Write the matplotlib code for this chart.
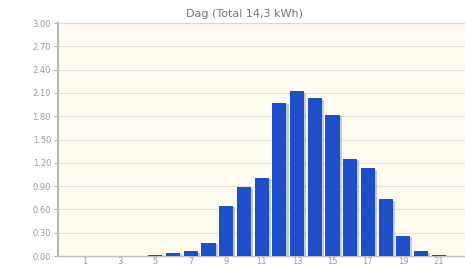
import matplotlib
matplotlib.use("Agg")
import matplotlib.pyplot as plt
import matplotlib.patheffects as pe

title = "Dag (Total 14,3 kWh)"
hours = list(range(0, 24))
values = [0.0, 0.004, 0.004, 0.004, 0.004, 0.01, 0.04, 0.06, 0.17, 0.65, 0.89, 1.01,
          1.97, 2.12, 2.03, 1.82, 1.25, 1.13, 0.73, 0.26, 0.06, 0.015, 0.0, 0.0]
yticks = [0.0, 0.3, 0.6, 0.9, 1.2, 1.5, 1.8, 2.1, 2.4, 2.7, 3.0]
xticks = [1, 3, 5, 7, 9, 11, 13, 15, 17, 19, 21]

fig = plt.figure(figsize=(4.65, 2.66), dpi=100)
fig.patch.set_facecolor("white")
ax = fig.add_axes([58/465, 10/266, (483-58)/465, 233/266])
ax.set_facecolor("#fffbf1")

bars = ax.bar(hours, values, width=0.8, color="#1f4fc6", zorder=3,
              path_effects=[pe.SimplePatchShadow(offset=(1.5, -1), shadow_rgbFace="#9aa8cc", alpha=0.6), pe.Normal()])

ax.set_xlim(-0.5, 23.5)
ax.set_ylim(0, 3.0)
ax.set_yticks(yticks)
ax.set_yticklabels([f"{v:.2f}" for v in yticks])
ax.set_xticks(xticks)
ax.set_xticklabels([str(x) for x in xticks])
ax.grid(axis="y", color="#e6e2da", linewidth=0.8, zorder=0)
ax.tick_params(axis="y", labelsize=6, colors="#999999", length=3, width=0.6, pad=2)
ax.tick_params(axis="x", labelsize=6, colors="#999999", length=0, pad=1)
for s in ["right"]:
    ax.spines[s].set_visible(False)
ax.spines["top"].set_color("#ddd4d4")
ax.spines["top"].set_linewidth(0.8)
ax.spines["left"].set_color("#b8b8b8")
ax.spines["left"].set_linewidth(1.5)
ax.spines["bottom"].set_color("#c0c0c0")
ax.spines["bottom"].set_linewidth(1.0)

fig.text(244/465, 1 - 14/266, title, ha="center", va="center", fontsize=8, color="#777777")

fig.savefig("out.png", dpi=100)
